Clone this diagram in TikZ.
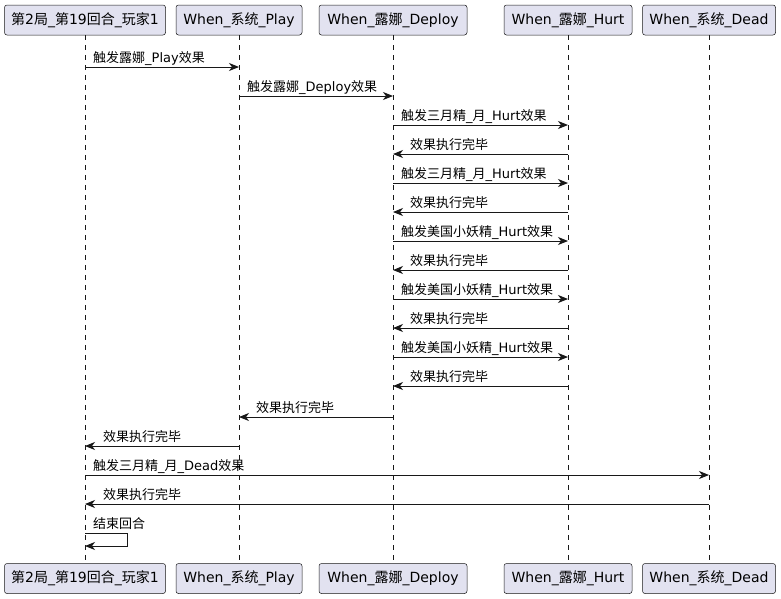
\documentclass[tikz,border=0pt]{standalone}
\usepackage{fontspec}
\setsansfont{DejaVu Sans}
\newfontfamily\cjk{Noto Sans CJK SC}
\newcommand{\zh}[1]{{\cjk #1}}
\usetikzlibrary{arrows.meta}
\definecolor{cbox}{HTML}{E2E2F0}
\definecolor{cline}{HTML}{181818}

\begin{document}
\begin{tikzpicture}[x=1pt, y=-1pt,
    part/.style={draw=cline, fill=cbox, rounded corners=2.5pt, line width=0.5pt,
                 minimum height=30pt, inner sep=0pt, font=\sffamily\fontsize{14}{16}\selectfont},
    life/.style={draw=cline, line width=0.5pt, dash pattern=on 5pt off 5pt},
    msg/.style={draw=cline, line width=1pt, -{Stealth[length=10pt, width=8pt, inset=3pt]}},
    lbl/.style={anchor=base west, inner sep=0pt, font=\sffamily\fontsize{13}{15}\selectfont},
  ]
  \useasboundingbox (0,0) rectangle (781,598);
  % participants, top and bottom
  \foreach \n/\x/\w/\t in {p/85/161/{\zh{第}2\zh{局}\_\zh{第}19\zh{回合}\_\zh{玩家}1},
                           s/239/126/{When\_\zh{系统}\_Play},
                           d/393/148/{When\_\zh{露娜}\_Deploy},
                           h/568/128/{When\_\zh{露娜}\_Hurt},
                           k/709/133/{When\_\zh{系统}\_Dead}} {
    \node[part, minimum width=\w pt] (\n top) at (\x,20) {\t};
    \node[part, minimum width=\w pt] (\n bot) at (\x,578.5) {\t};
    \draw[life] (\n top.south) -- (\n bot.north);
  }
  % messages
  \coordinate (m1a) at (85,67);   \coordinate (m1b) at (239,67);
  \draw[msg] (m1a) -- (m1b);
  \node[lbl] at (93,62) {\zh{触发露娜}\_Play\zh{效果}};
  \coordinate (m2a) at (239,96);  \coordinate (m2b) at (393,96);
  \draw[msg] (m2a) -- (m2b);
  \node[lbl] at (247,91) {\zh{触发露娜}\_Deploy\zh{效果}};
  % hurt calls
  \foreach \y/\t in {125/{\zh{触发三月精}\_\zh{月}\_Hurt\zh{效果}},
                     183/{\zh{触发三月精}\_\zh{月}\_Hurt\zh{效果}},
                     241/{\zh{触发美国小妖精}\_Hurt\zh{效果}},
                     299/{\zh{触发美国小妖精}\_Hurt\zh{效果}},
                     357/{\zh{触发美国小妖精}\_Hurt\zh{效果}}} {
    \coordinate (ha) at (393,\y);  \coordinate (hb) at (568,\y);
    \draw[msg] (ha) -- (hb);
    \node[lbl] at (401,\y-5) {\t};
    \coordinate (ra) at (568,\y+29);  \coordinate (rb) at (393,\y+29);
    \draw[msg] (ra) -- (rb);
    \node[lbl] at (410,\y+24) {\zh{效果执行完毕}};
  }
  % returns
  \coordinate (r1a) at (393,417);  \coordinate (r1b) at (239,417);
  \draw[msg] (r1a) -- (r1b);
  \node[lbl] at (256,412) {\zh{效果执行完毕}};
  \coordinate (r2a) at (239,446);  \coordinate (r2b) at (85,446);
  \draw[msg] (r2a) -- (r2b);
  \node[lbl] at (103,441) {\zh{效果执行完毕}};
  \coordinate (m3a) at (85,475);   \coordinate (m3b) at (709,475);
  \draw[msg] (m3a) -- (m3b);
  \node[lbl] at (93,470) {\zh{触发三月精}\_\zh{月}\_Dead\zh{效果}};
  \coordinate (r3a) at (709,504);  \coordinate (r3b) at (85,504);
  \draw[msg] (r3a) -- (r3b);
  \node[lbl] at (103,499) {\zh{效果执行完毕}};
  % self message
  \coordinate (e1) at (85,533);  \coordinate (e2) at (85,546);
  \draw[msg] (e1) -- (127,533) -- (127,546) -- (e2);
  \node[lbl] at (93,528) {\zh{结束回合}};
\end{tikzpicture}
\end{document}
